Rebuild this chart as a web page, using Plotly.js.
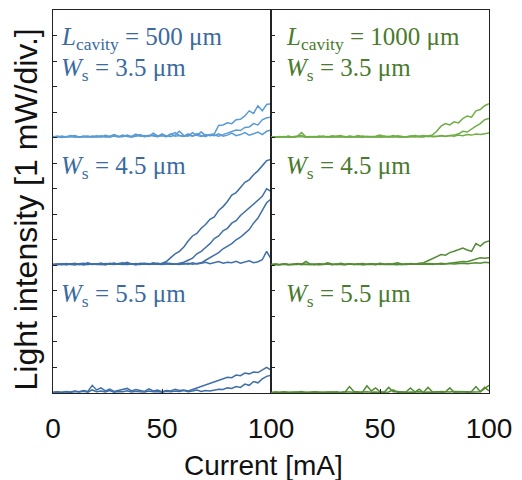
<!DOCTYPE html>
<html>
<head>
<meta charset="utf-8">
<script src="https://cdn.plot.ly/plotly-3.0.1.min.js"></script>
<style>html,body{margin:0;padding:0;background:#fff;}#chart{width:522px;height:480px;}</style>
</head>
<body>
<div id="chart"></div>
<script>
// Current axis (mA)
const current = [0,2,4,6,8,10,12,14,16,18,20,22,24,26,28,30,32,34,36,38,40,42,44,46,48,50,52,54,56,58,60,62,64,66,68,70,72,74,76,78,80,82,84,86,88,90,92,94,96,98,100];

// L = 500 um, Ws = 3.5 um (mW)
const l500_w35_a = [0.05,0.02,0.06,0.03,0.08,0.04,0.02,0.06,0.05,0.03,0.07,0.04,0.09,0.05,0.12,0.06,0.04,0.10,0.05,0.14,0.06,0.08,0.05,0.18,0.07,0.10,0.05,0.12,0.20,0.08,0.06,0.15,0.07,0.10,0.22,0.08,0.12,0.15,0.48,0.50,0.58,0.55,0.70,0.72,0.85,1.05,0.95,1.25,1.05,1.30,1.33];
const l500_w35_b = [0.03,0.06,0.02,0.05,0.04,0.08,0.03,0.05,0.02,0.06,0.04,0.07,0.03,0.05,0.08,0.04,0.10,0.05,0.03,0.08,0.12,0.05,0.09,0.06,0.04,0.15,0.07,0.05,0.10,0.25,0.08,0.06,0.20,0.09,0.05,0.12,0.08,0.10,0.06,0.12,0.18,0.25,0.30,0.28,0.40,0.42,0.55,0.50,0.70,0.78,0.80];
const l500_w35_c = [0.02,0.04,0.01,0.03,0.05,0.02,0.04,0.03,0.06,0.02,0.04,0.03,0.05,0.02,0.06,0.03,0.04,0.07,0.03,0.05,0.08,0.04,0.06,0.10,0.05,0.07,0.04,0.15,0.06,0.08,0.05,0.10,0.06,0.16,0.08,0.05,0.12,0.08,0.15,0.06,0.10,0.18,0.08,0.12,0.20,0.10,0.15,0.22,0.12,0.25,0.30];

// L = 500 um, Ws = 4.5 um
const l500_w45_a = [0.04,0.02,0.06,0.03,0.05,0.08,0.03,0.05,0.10,0.04,0.06,0.03,0.07,0.05,0.09,0.04,0.06,0.12,0.05,0.03,0.08,0.06,0.04,0.10,0.05,0.08,0.15,0.30,0.45,0.55,0.72,0.95,1.15,1.25,1.45,1.60,1.80,1.90,2.15,2.30,2.50,2.75,2.85,3.05,3.25,3.35,3.55,3.70,3.90,4.10,4.15];
const l500_w45_b = [0.02,0.05,0.03,0.07,0.04,0.02,0.06,0.08,0.03,0.05,0.04,0.09,0.03,0.06,0.04,0.07,0.10,0.04,0.06,0.03,0.05,0.08,0.06,0.04,0.07,0.05,0.09,0.06,0.04,0.08,0.12,0.20,0.28,0.45,0.55,0.70,0.85,1.05,1.15,1.35,1.45,1.65,1.75,1.95,2.10,2.25,2.40,2.55,2.70,3.00,2.90];
const l500_w45_c = [0.03,0.04,0.02,0.05,0.06,0.03,0.04,0.02,0.06,0.03,0.05,0.04,0.03,0.08,0.04,0.05,0.03,0.06,0.04,0.07,0.03,0.05,0.04,0.06,0.08,0.04,0.05,0.07,0.04,0.06,0.05,0.08,0.04,0.06,0.10,0.20,0.30,0.40,0.50,0.65,0.75,0.85,1.00,1.10,1.25,1.40,1.65,1.85,2.15,2.45,2.60];
const l500_w45_d = [0.02,0.03,0.05,0.02,0.04,0.03,0.06,0.02,0.04,0.05,0.03,0.04,0.02,0.05,0.03,0.06,0.04,0.03,0.05,0.02,0.04,0.06,0.03,0.05,0.04,0.03,0.06,0.04,0.05,0.03,0.07,0.04,0.10,0.05,0.08,0.12,0.06,0.10,0.15,0.08,0.12,0.10,0.16,0.08,0.12,0.18,0.10,0.14,0.22,0.55,0.25];

// L = 500 um, Ws = 5.5 um
const l500_w55_a = [0.03,0.05,0.02,0.06,0.04,0.08,0.05,0.10,0.06,0.30,0.12,0.20,0.08,0.15,0.06,0.10,0.12,0.18,0.08,0.14,0.10,0.06,0.16,0.08,0.12,0.05,0.10,0.08,0.15,0.10,0.12,0.08,0.14,0.20,0.25,0.30,0.38,0.45,0.50,0.55,0.62,0.60,0.70,0.68,0.78,0.75,0.82,0.80,0.90,1.00,0.90];
const l500_w55_b = [0.02,0.04,0.03,0.05,0.02,0.06,0.04,0.07,0.03,0.12,0.05,0.08,0.04,0.10,0.03,0.06,0.05,0.09,0.04,0.07,0.05,0.04,0.08,0.05,0.06,0.03,0.07,0.05,0.08,0.06,0.10,0.05,0.08,0.12,0.06,0.10,0.08,0.12,0.15,0.14,0.20,0.18,0.25,0.22,0.35,0.30,0.45,0.40,0.55,0.65,0.70];

// L = 1000 um, Ws = 3.5 um
const l1000_w35_a = [0.04,0.02,0.05,0.03,0.06,0.02,0.04,0.20,0.03,0.05,0.02,0.06,0.04,0.03,0.07,0.04,0.05,0.02,0.06,0.04,0.08,0.03,0.05,0.04,0.06,0.10,0.04,0.05,0.03,0.07,0.05,0.04,0.06,0.08,0.05,0.04,0.07,0.10,0.25,0.45,0.55,0.50,0.62,0.58,0.75,0.85,0.80,1.05,1.10,1.25,1.33];
const l1000_w35_b = [0.02,0.04,0.03,0.05,0.02,0.04,0.06,0.08,0.03,0.04,0.05,0.03,0.06,0.02,0.04,0.05,0.08,0.03,0.05,0.04,0.03,0.06,0.04,0.05,0.03,0.04,0.06,0.03,0.08,0.04,0.05,0.03,0.06,0.04,0.05,0.08,0.04,0.06,0.05,0.08,0.06,0.07,0.10,0.15,0.25,0.22,0.35,0.45,0.55,0.70,0.75];
const l1000_w35_c = [0.01,0.03,0.02,0.04,0.03,0.02,0.04,0.05,0.02,0.03,0.04,0.02,0.03,0.05,0.02,0.04,0.03,0.05,0.02,0.04,0.03,0.02,0.05,0.03,0.04,0.02,0.03,0.05,0.04,0.03,0.02,0.04,0.03,0.05,0.03,0.04,0.06,0.04,0.05,0.07,0.05,0.08,0.06,0.10,0.08,0.12,0.10,0.14,0.12,0.15,0.18];

// L = 1000 um, Ws = 4.5 um
const l1000_w45_a = [0.03,0.05,0.02,0.06,0.04,0.03,0.07,0.04,0.15,0.05,0.03,0.06,0.04,0.10,0.05,0.03,0.08,0.04,0.06,0.03,0.05,0.07,0.04,0.06,0.03,0.08,0.05,0.04,0.06,0.10,0.05,0.04,0.07,0.05,0.08,0.10,0.18,0.25,0.35,0.42,0.40,0.50,0.55,0.62,0.68,0.60,0.55,0.85,0.75,0.90,0.95];
const l1000_w45_b = [0.02,0.04,0.03,0.05,0.02,0.04,0.03,0.06,0.04,0.03,0.05,0.02,0.04,0.06,0.03,0.05,0.04,0.03,0.06,0.04,0.05,0.03,0.04,0.06,0.05,0.03,0.04,0.06,0.04,0.05,0.03,0.06,0.05,0.04,0.06,0.05,0.07,0.06,0.05,0.08,0.06,0.08,0.10,0.12,0.15,0.14,0.20,0.25,0.30,0.28,0.30];
const l1000_w45_c = [0.01,0.03,0.02,0.04,0.02,0.03,0.05,0.02,0.04,0.03,0.02,0.04,0.03,0.05,0.02,0.04,0.03,0.02,0.05,0.03,0.04,0.02,0.03,0.04,0.02,0.05,0.03,0.04,0.03,0.02,0.04,0.03,0.05,0.04,0.03,0.04,0.05,0.03,0.06,0.04,0.05,0.07,0.05,0.06,0.08,0.06,0.07,0.10,0.08,0.12,0.10];

// L = 1000 um, Ws = 5.5 um
const l1000_w55_a = [0.02,0.04,0.03,0.05,0.02,0.04,0.03,0.06,0.02,0.04,0.05,0.03,0.02,0.04,0.03,0.05,0.02,0.04,0.25,0.06,0.05,0.03,0.28,0.08,0.20,0.05,0.04,0.22,0.05,0.06,0.04,0.05,0.20,0.04,0.05,0.03,0.22,0.05,0.04,0.06,0.05,0.04,0.06,0.05,0.04,0.05,0.06,0.25,0.05,0.18,0.30];
const l1000_w55_b = [0.01,0.03,0.02,0.04,0.03,0.02,0.04,0.02,0.03,0.02,0.04,0.03,0.02,0.03,0.04,0.02,0.03,0.05,0.04,0.03,0.02,0.04,0.05,0.03,0.04,0.02,0.03,0.04,0.12,0.03,0.04,0.02,0.04,0.03,0.15,0.02,0.04,0.03,0.05,0.03,0.04,0.20,0.03,0.04,0.05,0.03,0.04,0.06,0.05,0.22,0.08];

const rowOffsets = [10, 5, 0];
const lightBlue = '#5b9bd5', darkBlue = '#3f6fa7';
const lightGreen = '#70ad47', darkGreen = '#548c35';

const groups = [
  {series:[l500_w35_a,l500_w35_b,l500_w35_c], row:0, xa:'x', ya:'y', color:lightBlue},
  {series:[l500_w45_a,l500_w45_b,l500_w45_c,l500_w45_d], row:1, xa:'x', ya:'y', color:darkBlue},
  {series:[l500_w55_a,l500_w55_b], row:2, xa:'x', ya:'y', color:darkBlue},
  {series:[l1000_w35_a,l1000_w35_b,l1000_w35_c], row:0, xa:'x2', ya:'y2', color:lightGreen},
  {series:[l1000_w45_a,l1000_w45_b,l1000_w45_c], row:1, xa:'x2', ya:'y2', color:darkGreen},
  {series:[l1000_w55_a,l1000_w55_b], row:2, xa:'x2', ya:'y2', color:darkGreen}
];

const traces = [];
groups.forEach(g => {
  g.series.forEach(s => {
    traces.push({
      x: current,
      y: s.map(v => v + rowOffsets[g.row]),
      xaxis: g.xa, yaxis: g.ya,
      mode: 'lines', type: 'scatter',
      line: {color: g.color, width: 1.5},
      hoverinfo: 'skip', showlegend: false
    });
  });
});

const sans = 'Liberation Sans, Arial, sans-serif';
const tickFont = {family: sans, size: 28, color: '#111'};
const axisCommon = {
  showgrid: false, zeroline: false, showline: true, mirror: true,
  linecolor: '#222', linewidth: 1, ticks: 'inside', ticklen: 4, tickcolor: '#222'
};

const blueText = '#3a6a9f', greenText = '#4a7a2c';
const serif = 'Liberation Serif, Times New Roman, serif';

function label(xref, yref, x, y, text, color) {
  return {xref:xref, yref:yref, x:x, y:y, xanchor:'left', yanchor:'top', align:'left', showarrow:false,
          text:text, font:{family:serif, size:25, color:color}};
}

const annotations = [
  label('x','y',2.6,14.55,'<i>L</i><sub>cavity</sub> = 500 μm', blueText),
  label('x','y',2.6,13.37,'<i>W</i><sub>s</sub> = 3.5 μm', blueText),
  label('x','y',2.6,9.53,'<i>W</i><sub>s</sub> = 4.5 μm', blueText),
  label('x','y',2.6,4.52,'<i>W</i><sub>s</sub> = 5.5 μm', blueText),
  label('x2','y2',5.8,14.55,'<i>L</i><sub>cavity</sub> = 1000 μm', greenText),
  label('x2','y2',5.8,13.37,'<i>W</i><sub>s</sub> = 3.5 μm', greenText),
  label('x2','y2',5.8,9.53,'<i>W</i><sub>s</sub> = 4.5 μm', greenText),
  label('x2','y2',5.8,4.52,'<i>W</i><sub>s</sub> = 5.5 μm', greenText),
  {xref:'paper', yref:'paper', x:0.482, y:-0.19, xanchor:'center', yanchor:'middle', showarrow:false,
   text:'Current [mA]', font:{family:sans, size:28, color:'#111'}},
  {xref:'paper', yref:'paper', x:-0.063, y:0.478, xanchor:'center', yanchor:'middle', showarrow:false, textangle:-90,
   text:'Light intensity [1 mW/div.]', font:{family:sans, size:32, color:'#111'}}
];

const layout = {
  width: 522, height: 480,
  margin: {l:53, r:33, t:10, b:87},
  paper_bgcolor: '#fff', plot_bgcolor: '#fff',
  xaxis: Object.assign({}, axisCommon, {domain:[0,0.5], range:[0,100], tickvals:[0,50,100], ticktext:['0','50','100'], tickfont: tickFont, ticklabelstandoff: 10, anchor:'y'}),
  xaxis2: Object.assign({}, axisCommon, {domain:[0.5,1], range:[0,100], tickvals:[0,50,100], ticktext:['','50','100'], tickfont: tickFont, ticklabelstandoff: 10, anchor:'y2'}),
  yaxis: Object.assign({}, axisCommon, {range:[0,15], dtick:1, tick0:0, showticklabels:false, anchor:'x'}),
  yaxis2: Object.assign({}, axisCommon, {range:[0,15], dtick:1, tick0:0, showticklabels:false, anchor:'x2'}),
  annotations: annotations
};

Plotly.newPlot('chart', traces, layout, {displayModeBar:false, staticPlot:true});
</script>
</body>
</html>
